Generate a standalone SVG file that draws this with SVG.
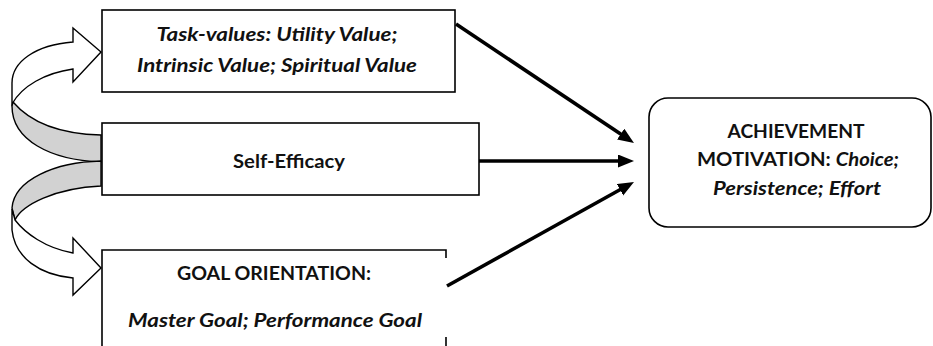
<svg xmlns="http://www.w3.org/2000/svg" width="933" height="346" viewBox="0 0 933 346">
  <style>
    .box { fill: #ffffff; stroke: #000000; stroke-width: 1.6; }
    .edge { fill: none; stroke: #000000; stroke-width: 1.6; }
    .link { fill: none; stroke: #000000; stroke-width: 3.6; marker-end: url(#head); }
    .band-front { fill: #ffffff; stroke: #000000; stroke-width: 1.4; stroke-linejoin: miter; }
    .band-back { fill: #d2d2d2; stroke: #000000; stroke-width: 1.4; }
    text { font-family: Lato, "Open Sans", "Liberation Sans", sans-serif; font-size: 18px; font-weight: bold; fill: #111111; text-anchor: middle; }
    .it { font-style: italic; }
  </style>
  <defs>
    <marker id="head" markerUnits="userSpaceOnUse" markerWidth="18" markerHeight="14" refX="4" refY="6.5" orient="auto">
      <path d="M0,0 L16,6.5 L0,13 Z" fill="#000000"/>
    </marker>
  </defs>

  <!-- curved arrows linking self-efficacy to the two other factors -->
  <g id="curved-arrows">
    <g id="curve-up">
      <path class="band-back" d="M13,102 C30,122 60,134 101,135 L101,162 C50,160 12,140 12,106 Z"/>
      <path class="band-front" d="M73,42 C35,45 12,62 12,83 L12,104 C22,86 45,73 73,69 L73,82 L101,52 L73,28 Z"/>
    </g>
    <g id="curve-down">
      <path class="band-back" d="M101,161 C55,162 14,180 12,208 L15,220 C22,205 55,188 101,186 Z"/>
      <path class="band-front" d="M15,220 C25,233 45,248 73,253 L73,238 L101,268 L73,295 L73,278 C40,275 15,258 12,230 L12,209 Z"/>
    </g>
  </g>

  <!-- straight connectors into the outcome box -->
  <g id="connectors">
    <line class="link" x1="456" y1="24" x2="624" y2="136.3"/>
    <line class="link" x1="479" y1="161" x2="622" y2="161"/>
    <line class="link" x1="447" y1="286" x2="623.5" y2="187.8"/>
  </g>

  <g id="task-values">
    <rect class="box" x="102" y="10" width="353" height="82"/>
    <text class="it" x="277" y="41" textLength="241" lengthAdjust="spacingAndGlyphs">Task-values: Utility Value;</text>
    <text class="it" x="277" y="72" textLength="280" lengthAdjust="spacingAndGlyphs">Intrinsic Value; Spiritual Value</text>
  </g>

  <g id="self-efficacy">
    <rect class="box" x="102" y="123" width="377" height="72" style="fill:none"/>
    <text x="289" y="168" textLength="112" lengthAdjust="spacingAndGlyphs">Self-Efficacy</text>
  </g>

  <g id="goal-orientation">
    <path class="edge" d="M102,346 L102,250 L446,250 L446,258 M446,337 L446,346"/>
    <text x="274" y="280" textLength="194" lengthAdjust="spacingAndGlyphs">GOAL ORIENTATION:</text>
    <text class="it" x="275" y="327" textLength="294" lengthAdjust="spacingAndGlyphs">Master Goal; Performance Goal</text>
  </g>

  <g id="achievement-motivation">
    <rect class="box" x="649" y="98" width="282" height="129" rx="19" ry="19"/>
    <text x="796" y="138" textLength="137" lengthAdjust="spacingAndGlyphs">ACHIEVEMENT</text>
    <text x="798" y="166" textLength="202" lengthAdjust="spacingAndGlyphs">MOTIVATION: <tspan class="it">Choice;</tspan></text>
    <text class="it" x="797" y="195" textLength="168" lengthAdjust="spacingAndGlyphs">Persistence; Effort</text>
  </g>
</svg>
